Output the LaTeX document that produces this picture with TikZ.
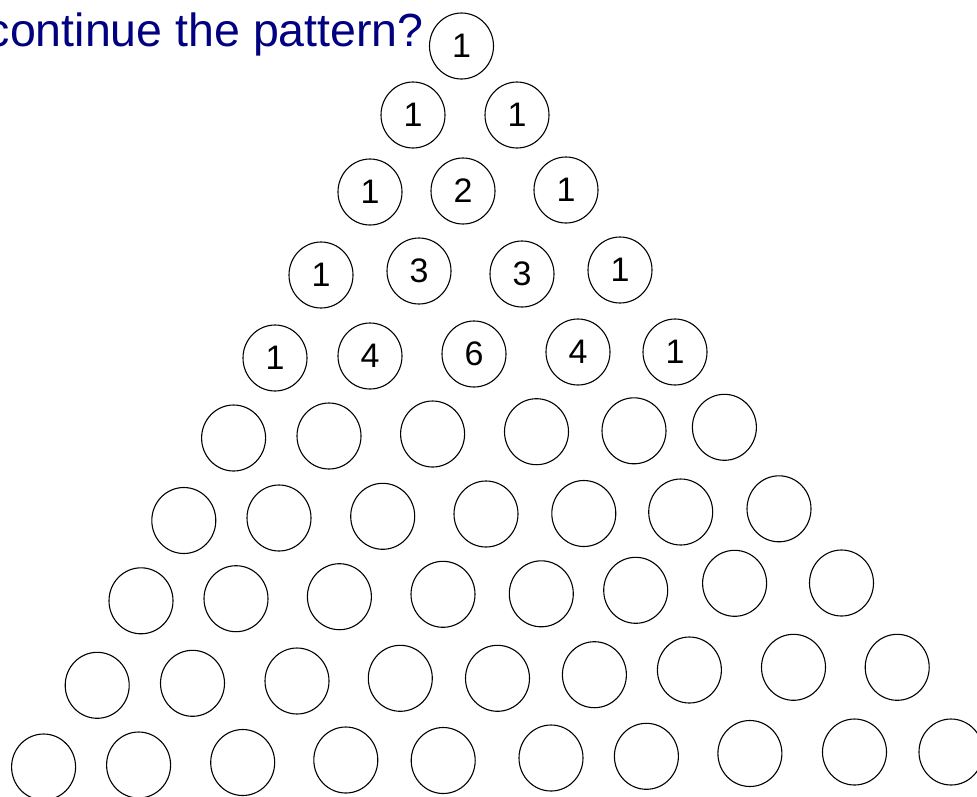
\documentclass[tikz,border=0pt]{standalone}
\usepackage{fontspec}
\setmainfont{Liberation Sans}
\usetikzlibrary{shapes.geometric}
\definecolor{titlenavy}{RGB}{0,0,128}
\begin{document}
\begin{tikzpicture}[x=1pt,y=-1pt,
  ball/.style={draw=black, line width=1.1pt, ellipse, minimum width=64pt,
    minimum height=66pt, inner sep=0pt, font=\fontsize{34}{34}\selectfont},
  titletext/.style={text=titlenavy, inner sep=0pt, anchor=base east,
    font=\fontsize{46.5}{46.5}\selectfont}]
\useasboundingbox (0,0) rectangle (977,796);
\fill[white] (0,0) rectangle (977,796);
\node[titletext] (title) at (424,46) {continue the pattern?};
% row 1
\node[ball] (r1c1) at (461.5,46) {1};
% row 2
\node[ball] (r2c1) at (413,115) {1};
\node[ball] (r2c2) at (517,115) {1};
% row 3
\node[ball] (r3c1) at (370,192) {1};
\node[ball] (r3c2) at (463,191) {2};
\node[ball] (r3c3) at (566,190) {1};
% row 4
\node[ball] (r4c1) at (321,275) {1};
\node[ball] (r4c2) at (419,271) {3};
\node[ball] (r4c3) at (522,274) {3};
\node[ball] (r4c4) at (620,270) {1};
% row 5
\node[ball] (r5c1) at (275,358) {1};
\node[ball] (r5c2) at (370,356) {4};
\node[ball] (r5c3) at (474,354) {6};
\node[ball] (r5c4) at (578,352) {4};
\node[ball] (r5c5) at (675,352) {1};
% row 6
\node[ball] (r6c1) at (233.6,438) {};
\node[ball] (r6c2) at (329,436) {};
\node[ball] (r6c3) at (432.6,434) {};
\node[ball] (r6c4) at (536.5,431.7) {};
\node[ball] (r6c5) at (634,430.8) {};
\node[ball] (r6c6) at (724.4,427.3) {};
% row 7
\node[ball] (r7c1) at (183.8,520.5) {};
\node[ball] (r7c2) at (279,518) {};
\node[ball] (r7c3) at (382.7,516.3) {};
\node[ball] (r7c4) at (486,514) {};
\node[ball] (r7c5) at (583.8,513.5) {};
\node[ball] (r7c6) at (680.7,512) {};
\node[ball] (r7c7) at (779,508.8) {};
% row 8
\node[ball] (r8c1) at (141,600.8) {};
\node[ball] (r8c2) at (236,598.7) {};
\node[ball] (r8c3) at (339.4,596.7) {};
\node[ball] (r8c4) at (443,594.3) {};
\node[ball] (r8c5) at (541.3,593.8) {};
\node[ball] (r8c6) at (635.7,590.3) {};
\node[ball] (r8c7) at (734.6,583.3) {};
\node[ball] (r8c8) at (841.5,583) {};
% row 9
\node[ball] (r9c1) at (97.2,685.3) {};
\node[ball] (r9c2) at (192.5,683.3) {};
\node[ball] (r9c3) at (297,681) {};
\node[ball] (r9c4) at (400.3,678.3) {};
\node[ball] (r9c5) at (497.5,678.3) {};
\node[ball] (r9c6) at (594.4,674.7) {};
\node[ball] (r9c7) at (689.4,670) {};
\node[ball] (r9c8) at (793.5,667.3) {};
\node[ball] (r9c9) at (897.2,667.3) {};
% row 10
\node[ball] (r10c1) at (43.6,767) {};
\node[ball] (r10c2) at (138.6,765) {};
\node[ball] (r10c3) at (242.7,762.5) {};
\node[ball] (r10c4) at (345.8,760) {};
\node[ball] (r10c5) at (443.2,760.5) {};
\node[ball] (r10c6) at (551,758) {};
\node[ball] (r10c7) at (646.4,756.3) {};
\node[ball] (r10c8) at (749.9,753.5) {};
\node[ball] (r10c9) at (854.5,752) {};
\node[ball] (r10c10) at (951,752) {};
\end{tikzpicture}
\end{document}
